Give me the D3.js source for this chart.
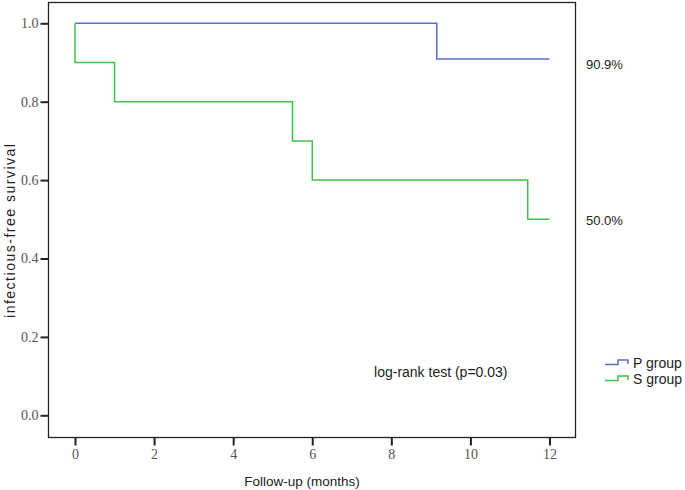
<!DOCTYPE html>
<html>
<head>
<meta charset="utf-8">
<script src="https://cdn.jsdelivr.net/npm/d3@7.9.0/dist/d3.min.js"></script>
<style>
  body { margin: 0; background: #fff; }
  svg { display: block; }
  .tick-label { font-family: "Liberation Serif", "Times New Roman", serif; font-size: 14px; fill: #555; }
  .sans { font-family: "Liberation Sans", Arial, sans-serif; font-size: 13px; fill: #222; }
</style>
</head>
<body>
<svg id="chart" width="685" height="490"></svg>
<script>
// survival step data (time in months, survival proportion)
const pTimes = [0, 9.15, 12];
const pSurvival = [1.0, 0.909, 0.909];
const sTimes = [0, 0, 1, 5.5, 6, 11.45, 12];
const sSurvival = [1.0, 0.9, 0.8, 0.7, 0.6, 0.5, 0.5];

const groups = ['P group', 'S group'];
const groupColors = ['#5b6fc9', '#3fc24c'];
const endLabels = ['90.9%', '50.0%'];

const xTicks = [0, 2, 4, 6, 8, 10, 12];
const yTicks = [0, 0.2, 0.4, 0.6, 0.8, 1.0];

const svg = d3.select('#chart');

const frame = { left: 48.5, right: 575.5, top: 2.5, bottom: 437.5 };

const x = d3.scaleLinear().domain([0, 12]).range([75, 549.5]);
const y = d3.scaleLinear().domain([0, 1]).range([415.3, 23.3]);

// frame
svg.append('rect')
  .attr('x', frame.left)
  .attr('y', frame.top)
  .attr('width', frame.right - frame.left)
  .attr('height', frame.bottom - frame.top)
  .attr('fill', 'none')
  .attr('stroke', '#222')
  .attr('stroke-width', 1.3);

// axes
const xAxis = svg.append('g')
  .attr('transform', `translate(0,${frame.bottom})`)
  .call(d3.axisBottom(x).tickValues(xTicks).tickSize(8).tickPadding(4).tickFormat(d3.format('d')));

const yAxis = svg.append('g')
  .attr('transform', `translate(${frame.left},0)`)
  .call(d3.axisLeft(y).tickValues(yTicks).tickSize(8).tickPadding(2).tickFormat(d3.format('.1f')));

[xAxis, yAxis].forEach((g) => {
  g.select('.domain').remove();
  g.selectAll('.tick line').attr('stroke', '#222').attr('stroke-width', 2);
  g.selectAll('.tick text').attr('class', 'tick-label').attr('fill', null);
});

// curves
const line = d3.line()
  .x((d) => x(d[0]))
  .y((d) => y(d[1]))
  .curve(d3.curveStepAfter);

const series = [
  d3.zip(pTimes, pSurvival),
  d3.zip(sTimes, sSurvival)
];

series.forEach((data, i) => {
  svg.append('path')
    .datum(data)
    .attr('d', line)
    .attr('fill', 'none')
    .attr('stroke', groupColors[i])
    .attr('stroke-width', 1.5);
});

// end labels (the 90.9% one sits a bit lower than its line)
const endValues = [pSurvival[pSurvival.length - 1], sSurvival[sSurvival.length - 1]];
const endOffsets = [10, 5.5];
endLabels.forEach((lab, i) => {
  svg.append('text')
    .attr('class', 'sans')
    .attr('x', 586)
    .attr('y', y(endValues[i]) + endOffsets[i])
    .text(lab);
});

// log-rank text
svg.append('text')
  .attr('class', 'sans')
  .style('font-size', '14px')
  .attr('x', 507.5)
  .attr('y', 377)
  .attr('text-anchor', 'end')
  .text('log-rank test (p=0.03)');

// legend
groups.forEach((g, i) => {
  const ly = 363 + i * 16;
  svg.append('path')
    .attr('d', `M605,${ly + 1.5}H618V${ly - 3}H628V${ly + 1}`)
    .attr('fill', 'none')
    .attr('stroke', groupColors[i])
    .attr('stroke-width', 1.5);
  svg.append('text')
    .attr('class', 'sans')
    .style('font-size', '14px')
    .attr('x', 633)
    .attr('y', ly + 5)
    .text(g);
});

// axis titles
svg.append('text')
  .attr('class', 'sans')
  .style('font-size', '14px')
  .attr('text-anchor', 'middle')
  .attr('transform', 'translate(15,231) rotate(-90)')
  .attr('textLength', 174)
  .attr('lengthAdjust', 'spacing')
  .text('infectious-free survival');

svg.append('text')
  .attr('class', 'sans')
  .style('font-size', '13.5px')
  .attr('text-anchor', 'middle')
  .attr('x', 302)
  .attr('y', 486)
  .text('Follow-up (months)');
</script>
</body>
</html>
